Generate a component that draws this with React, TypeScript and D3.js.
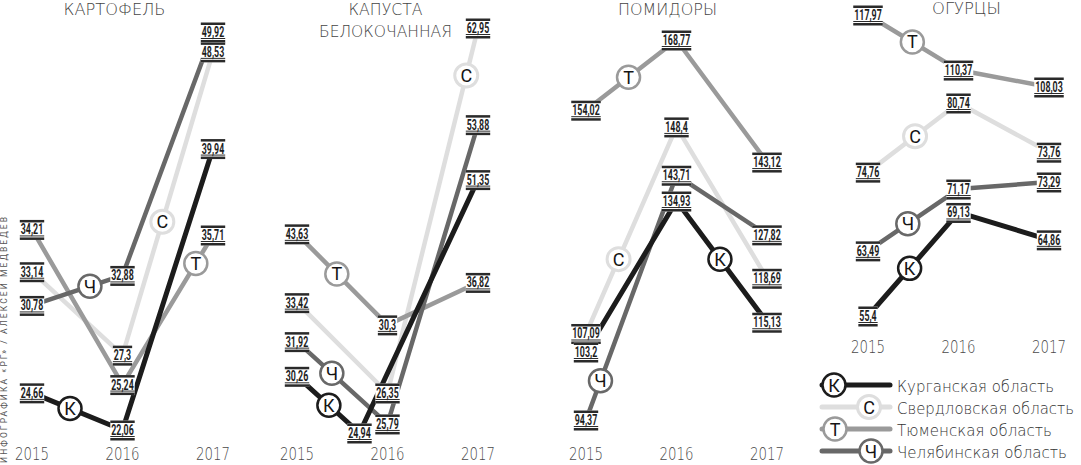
import React from "react";
import * as d3 from "d3";

const years = ["2015", "2016", "2017"];
const regions = ["Курганская область", "Свердловская область", "Тюменская область", "Челябинская область"];
const letters = ["К", "С", "Т", "Ч"];
const crops = [["КАРТОФЕЛЬ"], ["КАПУСТА", "БЕЛОКОЧАННАЯ"], ["ПОМИДОРЫ"], ["ОГУРЦЫ"]];
const credit = "ИНФОГРАФИКА «РГ» / АЛЕКСЕЙ МЕДВЕДЕВ";

// rows: Курганская, Свердловская, Тюменская, Челябинская; columns: 2015, 2016, 2017
const potato = [
  [24.66, 22.06, 39.94],
  [33.14, 27.3, 48.53],
  [34.21, 25.24, 35.71],
  [30.78, 32.88, 49.92],
];
const cabbage = [
  [30.26, 24.94, 51.35],
  [33.42, 26.35, 62.95],
  [43.63, 30.3, 36.82],
  [31.92, 25.79, 53.88],
];
const tomato = [
  [103.2, 134.93, 115.13],
  [107.09, 148.4, 118.69],
  [154.02, 168.77, 143.12],
  [94.37, 143.71, 127.82],
];
const cucumber = [
  [55.4, 69.13, 64.86],
  [74.76, 80.74, 73.76],
  [117.97, 110.37, 108.03],
  [63.49, 71.17, 73.29],
];
const cropValues = [potato, cabbage, tomato, cucumber];

// styles
const colors = ["#1c1c1c", "#dedede", "#9a9a9a", "#686868"];
const widths = [5, 4.5, 4.5, 4.5];
const drawOrder = [1, 2, 3, 0];
const thinFont = "'DejaVu Sans', Roboto, sans-serif";

// layout per panel (hand drawn chart, so scales are per panel)
const panels = [
  { x0: 32, yDomain: [22.06, 49.92], yRange: [430, 32], yearY: 460, titleDx: -8, titleY: [15], titleW: [102] },
  { x0: 297, yDomain: [24.94, 62.95], yRange: [433, 28], yearY: 460, titleDx: -2, titleY: [15, 37], titleW: [74, 133] },
  { x0: 586, yDomain: [103.2, 168.77], yRange: [352, 40], yearY: 460, titleDx: -9, titleY: [15], titleW: [99] },
  { x0: 868, yDomain: [55.4, 80.74, 108.03, 117.97], yRange: [316, 112, 87, 15], yearY: 353, titleDx: 8, titleY: [14], titleW: [69] },
];
const panelWidth = 181;

// circle marker on each line: [segment, fraction along it]
const markers = [
  [[0, 0.42], [1, 0.44], [1, 0.81], [0, 0.64]],
  [[0, 0.51], [1, 0.87], [0, 0.44], [0, 0.385]],
  [[1, 0.48], [0, 0.36], [0, 0.47], [0, 0.16]],
  [[0, 0.46], [0, 0.52], [0, 0.49], [0, 0.44]],
];

// label nudges "panel-series-year" -> [dx, dy] so labels don't collide
const nudges: Record<string, [number, number]> = {
  "0-2-0": [0, -27],
  "0-0-2": [0, -26],
  "1-1-1": [0, -25],
  "1-2-1": [0, -51],
  "1-3-0": [0, -17],
  "1-1-0": [0, -40],
  "1-2-2": [0, -24],
  "1-0-2": [0, 28],
  "1-0-1": [-28, 0],
  "2-0-2": [0, 27],
  "2-3-1": [0, 16],
  "2-1-1": [0, -10],
  "2-3-0": [0, 26],
  "3-1-2": [0, -16],
  "3-1-0": [0, 12],
  "3-3-2": [0, 10],
  "3-1-1": [0, -9],
  "3-0-1": [0, 7],
};

const legendRows = [385, 407, 429, 451];
const legendCircleX = [834, 869, 835, 871];
const legendTextW = [157, 177, 155, 170];

const fmt = (v: number) => String(v).replace(".", ",");
const labelW = (s: string) => s.replace(",", "").length * 5.1 + 2;

function ValueLabel({ x, y, text }: { x: number; y: number; text: string }) {
  const w = labelW(text);
  return (
    <g>
      <rect x={x - w / 2 - 1} y={y - 9.5} width={w + 2} height={20} fill="#fff" />
      <rect x={x - w / 2 - 1} y={y - 9.5} width={w + 2} height={2.5} fill="#2a2a2a" />
      <text
        x={x}
        y={y + 5}
        textAnchor="middle"
        fontFamily="Roboto, sans-serif"
        fontWeight={700}
        fontSize={15}
        fill="#1e1e1e"
        textLength={w}
        lengthAdjust="spacingAndGlyphs"
      >
        {text}
      </text>
      <rect x={x - w / 2 - 1} y={y + 6} width={w + 2} height={1} fill="#2a2a2a" />
      <rect x={x - w / 2 - 1} y={y + 8} width={w + 2} height={2.5} fill="#2a2a2a" />
    </g>
  );
}

function Marker({ x, y, i }: { x: number; y: number; i: number }) {
  return (
    <g>
      <circle cx={x} cy={y} r={11.5} fill="#fff" stroke={colors[i]} strokeWidth={i === 1 ? 3 : 2.5} />
      <text
        x={x}
        y={y + 6.5}
        textAnchor="middle"
        fontFamily="Roboto, sans-serif"
        fontSize={18}
        fill="#151515"
      >
        {letters[i]}
      </text>
    </g>
  );
}

function Panel({ p }: { p: number }) {
  const cfg = panels[p];
  const x = d3.scalePoint<string>().domain(years).range([cfg.x0, cfg.x0 + panelWidth]);
  const y = d3.scaleLinear().domain(cfg.yDomain).range(cfg.yRange);
  const values = cropValues[p];

  const pts = values.map((row, s) =>
    row.map((v, k) => {
      const n = nudges[`${p}-${s}-${k}`] || [0, 0];
      return { x: (x(years[k]) as number) + n[0], y: y(v) + n[1], v };
    })
  );
  const line = d3
    .line<{ x: number; y: number }>()
    .x((d) => d.x)
    .y((d) => d.y);

  const cx = x(years[1]) as number;

  return (
    <g>
      {crops[p].map((t, i) => (
        <text
          key={t}
          x={cx + cfg.titleDx}
          y={cfg.titleY[i]}
          textAnchor="middle"
          fontFamily={thinFont}
          fontWeight={200}
          fontSize={16.5}
          fill="#444"
          textLength={cfg.titleW[i]}
          lengthAdjust="spacingAndGlyphs"
        >
          {t}
        </text>
      ))}
      {drawOrder.map((s) => (
        <path
          key={"l" + s}
          d={line(pts[s]) || ""}
          fill="none"
          stroke={colors[s]}
          strokeWidth={widths[s]}
          strokeLinejoin="round"
        />
      ))}
      {drawOrder.map((s) => {
        const [seg, t] = markers[p][s];
        const a = pts[s][seg];
        const b = pts[s][seg + 1];
        return <Marker key={"m" + s} x={a.x + (b.x - a.x) * t} y={a.y + (b.y - a.y) * t} i={s} />;
      })}
      {drawOrder.map((s) =>
        pts[s].map((d, k) => <ValueLabel key={`v${s}-${k}`} x={d.x} y={d.y} text={fmt(d.v)} />)
      )}
      {years.map((yr) => (
        <text
          key={yr}
          x={x(yr)}
          y={cfg.yearY}
          textAnchor="middle"
          fontFamily={thinFont}
          fontWeight={200}
          fontSize={18}
          fill="#4a4a4a"
          textLength={34}
          lengthAdjust="spacingAndGlyphs"
        >
          {yr}
        </text>
      ))}
    </g>
  );
}

export default function App() {
  return (
    <svg
      width={1081}
      height={465}
      style={{ position: "absolute", left: 0, top: 0, background: "#fff" }}
    >
      <rect width={1081} height={465} fill="#fff" />
      {panels.map((_, p) => (
        <Panel key={p} p={p} />
      ))}
      {regions.map((r, i) => (
        <g key={r}>
          <line
            x1={822}
            x2={890}
            y1={legendRows[i]}
            y2={legendRows[i]}
            stroke={colors[i]}
            strokeWidth={5}
            strokeLinecap="round"
          />
          <Marker x={legendCircleX[i]} y={legendRows[i]} i={i} />
          <text
            x={897}
            y={legendRows[i] + 6.5}
            fontFamily={thinFont}
            fontWeight={200}
            fontSize={15.5}
            fill="#333"
            textLength={legendTextW[i]}
            lengthAdjust="spacingAndGlyphs"
          >
            {r}
          </text>
        </g>
      ))}
      <text
        transform="translate(7,463) rotate(-90)"
        fontFamily="Roboto, sans-serif"
        fontSize={8.5}
        fill="#555"
        textLength={246}
        lengthAdjust="spacing"
      >
        {credit}
      </text>
    </svg>
  );
}
